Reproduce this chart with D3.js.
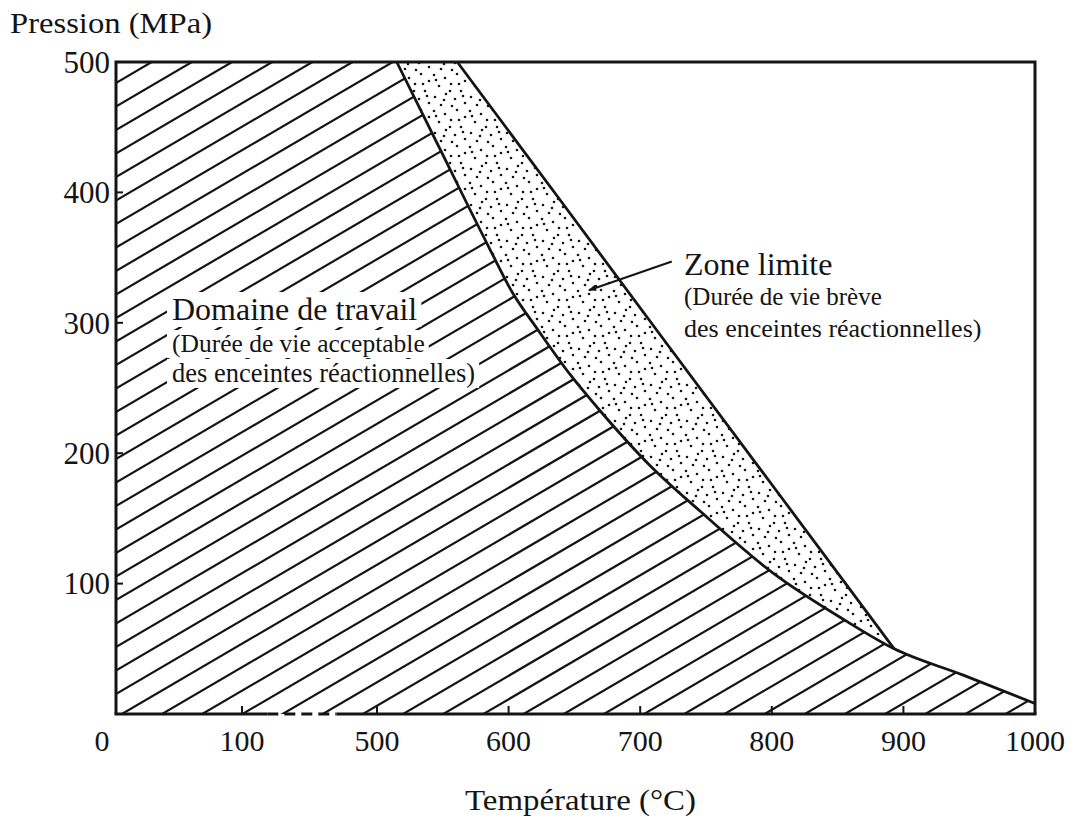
<!DOCTYPE html>
<html><head><meta charset="utf-8">
<script src="https://cdn.jsdelivr.net/npm/d3@7"></script>
<style>body{margin:0;background:#fff} svg{display:block}</style>
</head><body>
<svg id="c" width="1077" height="823"></svg>
<script>
// ---- data ----
const xTicks = [0, 100, 500, 600, 700, 800, 900, 1000];
const yTicks = [100, 200, 300, 400, 500];
const axisBreak = [175, 380];               // dashed (broken) part of the temperature axis
// boundary of the working domain (lower edge of the limit zone), T in °C, P in MPa
const lowerT = [515, 548, 586, 603, 622, 647, 670, 707, 745, 801, 857, 893, 945, 1000];
const lowerP = [500, 433, 356, 323, 295, 260, 232, 191, 156, 108, 71, 50, 30, 8];
// upper edge of the limit zone
const upperT = [561, 640, 715, 800, 893];
const upperP = [500, 393, 291, 176, 50];
const workLabel = ["Domaine de travail", "(Durée de vie acceptable", "des enceintes réactionnelles)"];
const limitLabel = ["Zone limite", "(Durée de vie brève", "des enceintes réactionnelles)"];
const arrowFrom = [724, 347];
const arrowTo = [661, 325];
const yTitle = "Pression (MPa)";
const xTitle = "Température (°C)";

// ---- drawing ----
const svg = d3.select("#c");
const FONT = "'Liberation Serif', 'Times New Roman', serif";
const INK = "#141414";

const x = d3.scaleLinear().domain([0, 100, 500, 1000]).range([116, 242, 377, 1035]);
const y = d3.scaleLinear().domain([0, 500]).range([714, 62]);

const lower = lowerT.map((t, i) => [t, lowerP[i]]);
const upper = upperT.map((t, i) => [t, upperP[i]]);
const line = d3.line().x(d => x(d[0])).y(d => y(d[1]));
const smooth = d3.line().x(d => x(d[0])).y(d => y(d[1])).curve(d3.curveMonotoneX);

const defs = svg.append("defs");
const x0 = x(0), x1 = x(1000), yb = y(0), yt = y(500);

// hatched working domain polygon
const lowerPath = smooth(lower);
defs.append("clipPath").attr("id", "hatchClip")
  .append("path").attr("d", `M${x0},${yb}L${x0},${yt}` + lowerPath.replace(/^M/, "L") + `L${x1},${yb}Z`);

// limit zone polygon
const jIdx = lowerT.indexOf(upperT[upperT.length - 1]);
const zonePath = smooth(lower.slice(0, jIdx + 1)) + line(upper.slice().reverse()).replace(/^M/, "L") + "Z";

// stipple pattern (texture only)
const stipple = [[2,3],[13,6],[25,2],[33,9],[7,14],[19,12],[29,19],[3,25],[14,22],[23,27],[33,31],[9,33],[20,34],[27,12],[12,28],[31,24],[4,8],[18,19]];
const pat = defs.append("pattern").attr("id", "dots").attr("patternUnits", "userSpaceOnUse")
  .attr("width", 36).attr("height", 36);
pat.selectAll("circle").data(stipple).join("circle")
  .attr("cx", d => d[0]).attr("cy", d => d[1]).attr("r", 1.3).attr("fill", INK);

svg.append("path").attr("d", zonePath).attr("fill", "url(#dots)");

// text labels first (to measure for mask)
const textG = svg.append("g").attr("font-family", FONT).attr("fill", INK);
const wl = [{t: workLabel[0], x: 172, y: 320, s: 32}, {t: workLabel[1], x: 172, y: 352, s: 25.5}, {t: workLabel[2], x: 172, y: 382, s: 26.5}];
const ll = [{t: limitLabel[0], x: 684, y: 275, s: 32}, {t: limitLabel[1], x: 684, y: 305, s: 25}, {t: limitLabel[2], x: 684, y: 337, s: 26}];
const wTexts = textG.selectAll("text.w").data(wl).join("text").attr("class", "w")
  .attr("font-family", FONT)
  .attr("x", d => d.x).attr("y", d => d.y).attr("font-size", d => d.s).text(d => d.t);
textG.selectAll("text.l").data(ll).join("text").attr("class", "l")
  .attr("font-family", FONT)
  .attr("x", d => d.x).attr("y", d => d.y).attr("font-size", d => d.s).text(d => d.t);

// mask that removes hatching behind the working-domain label
const mask = defs.append("mask").attr("id", "textMask").attr("maskUnits", "userSpaceOnUse")
  .attr("x", 0).attr("y", 0).attr("width", 1077).attr("height", 823);
mask.append("rect").attr("width", 1077).attr("height", 823).attr("fill", "#fff");
wTexts.each(function () {
  const b = this.getBBox();
  mask.append("rect").attr("x", b.x - 5).attr("y", b.y + 1).attr("width", b.width + 9).attr("height", b.height - 1).attr("fill", "#000");
});

// hatching
const hG = svg.insert("g", "g").attr("clip-path", "url(#hatchClip)").append("g").attr("mask", "url(#textMask)");
const slope = 0.585, step = 23.5;
const ks = d3.range(-45, 75);
hG.selectAll("line").data(ks).join("line")
  .attr("x1", 100).attr("x2", 1050)
  .attr("y1", k => 80 + step * k - slope * (100 - 121))
  .attr("y2", k => 80 + step * k - slope * (1050 - 121))
  .attr("stroke", INK).attr("stroke-width", 2.2);

// boundary curves
svg.append("path").attr("d", lowerPath).attr("fill", "none").attr("stroke", INK).attr("stroke-width", 2.8).attr("stroke-linejoin", "round");
svg.append("path").attr("d", line(upper)).attr("fill", "none").attr("stroke", INK).attr("stroke-width", 2.8).attr("stroke-linejoin", "round");

// frame: left, top, right
svg.append("path").attr("d", `M${x0},${yb}L${x0},${yt}L${x1},${yt}L${x1},${yb}`)
  .attr("fill", "none").attr("stroke", INK).attr("stroke-width", 3);
// bottom axis with break
svg.append("line").attr("x1", x0 - 1.5).attr("x2", x(axisBreak[0])).attr("y1", yb).attr("y2", yb).attr("stroke", INK).attr("stroke-width", 3);
svg.append("line").attr("x1", x(axisBreak[0])).attr("x2", x(axisBreak[1])).attr("y1", yb).attr("y2", yb)
  .attr("stroke", INK).attr("stroke-width", 3).attr("stroke-dasharray", "11,6");
svg.append("line").attr("x1", x(axisBreak[1])).attr("x2", x1 + 1.5).attr("y1", yb).attr("y2", yb).attr("stroke", INK).attr("stroke-width", 3);

// ticks
svg.selectAll("line.yt").data(yTicks.filter(v => v < 500)).join("line").attr("class", "yt")
  .attr("x1", x0).attr("x2", x0 + 7).attr("y1", d => y(d)).attr("y2", d => y(d)).attr("stroke", INK).attr("stroke-width", 2);
svg.selectAll("line.xt").data(xTicks.filter(v => v > 0 && v < 1000)).join("line").attr("class", "xt")
  .attr("x1", d => x(d)).attr("x2", d => x(d)).attr("y1", yb).attr("y2", yb - 8).attr("stroke", INK).attr("stroke-width", 2);

// tick labels
textG.selectAll("text.yl").data(yTicks).join("text").attr("class", "yl")
  .attr("x", x0 - 6).attr("y", d => y(d)).attr("dy", "0.35em").attr("text-anchor", "end")
  .attr("font-size", 31).text(d => d);
textG.selectAll("text.xl").data(xTicks).join("text").attr("class", "xl")
  .attr("x", d => d === 0 ? x(d) - 14 : x(d)).attr("y", 751).attr("text-anchor", "middle")
  .attr("font-size", 30).text(d => d);

// axis titles
textG.append("text").attr("x", 10).attr("y", 33).attr("font-size", 29).attr("textLength", 202).attr("lengthAdjust", "spacingAndGlyphs").text(yTitle);
textG.append("text").attr("x", 465).attr("y", 810).attr("font-size", 30).attr("textLength", 231).attr("lengthAdjust", "spacingAndGlyphs").text(xTitle);

// arrow
defs.append("marker").attr("id", "ah").attr("viewBox", "0 0 10 10").attr("refX", 9).attr("refY", 5)
  .attr("markerWidth", 14).attr("markerHeight", 8).attr("markerUnits", "userSpaceOnUse").attr("orient", "auto")
  .append("path").attr("d", "M0,1L10,5L0,9Z").attr("fill", INK);
svg.append("line").attr("x1", x(arrowFrom[0])).attr("y1", y(arrowFrom[1]))
  .attr("x2", x(arrowTo[0])).attr("y2", y(arrowTo[1]))
  .attr("stroke", INK).attr("stroke-width", 2).attr("marker-end", "url(#ah)");
</script>
</body></html>
